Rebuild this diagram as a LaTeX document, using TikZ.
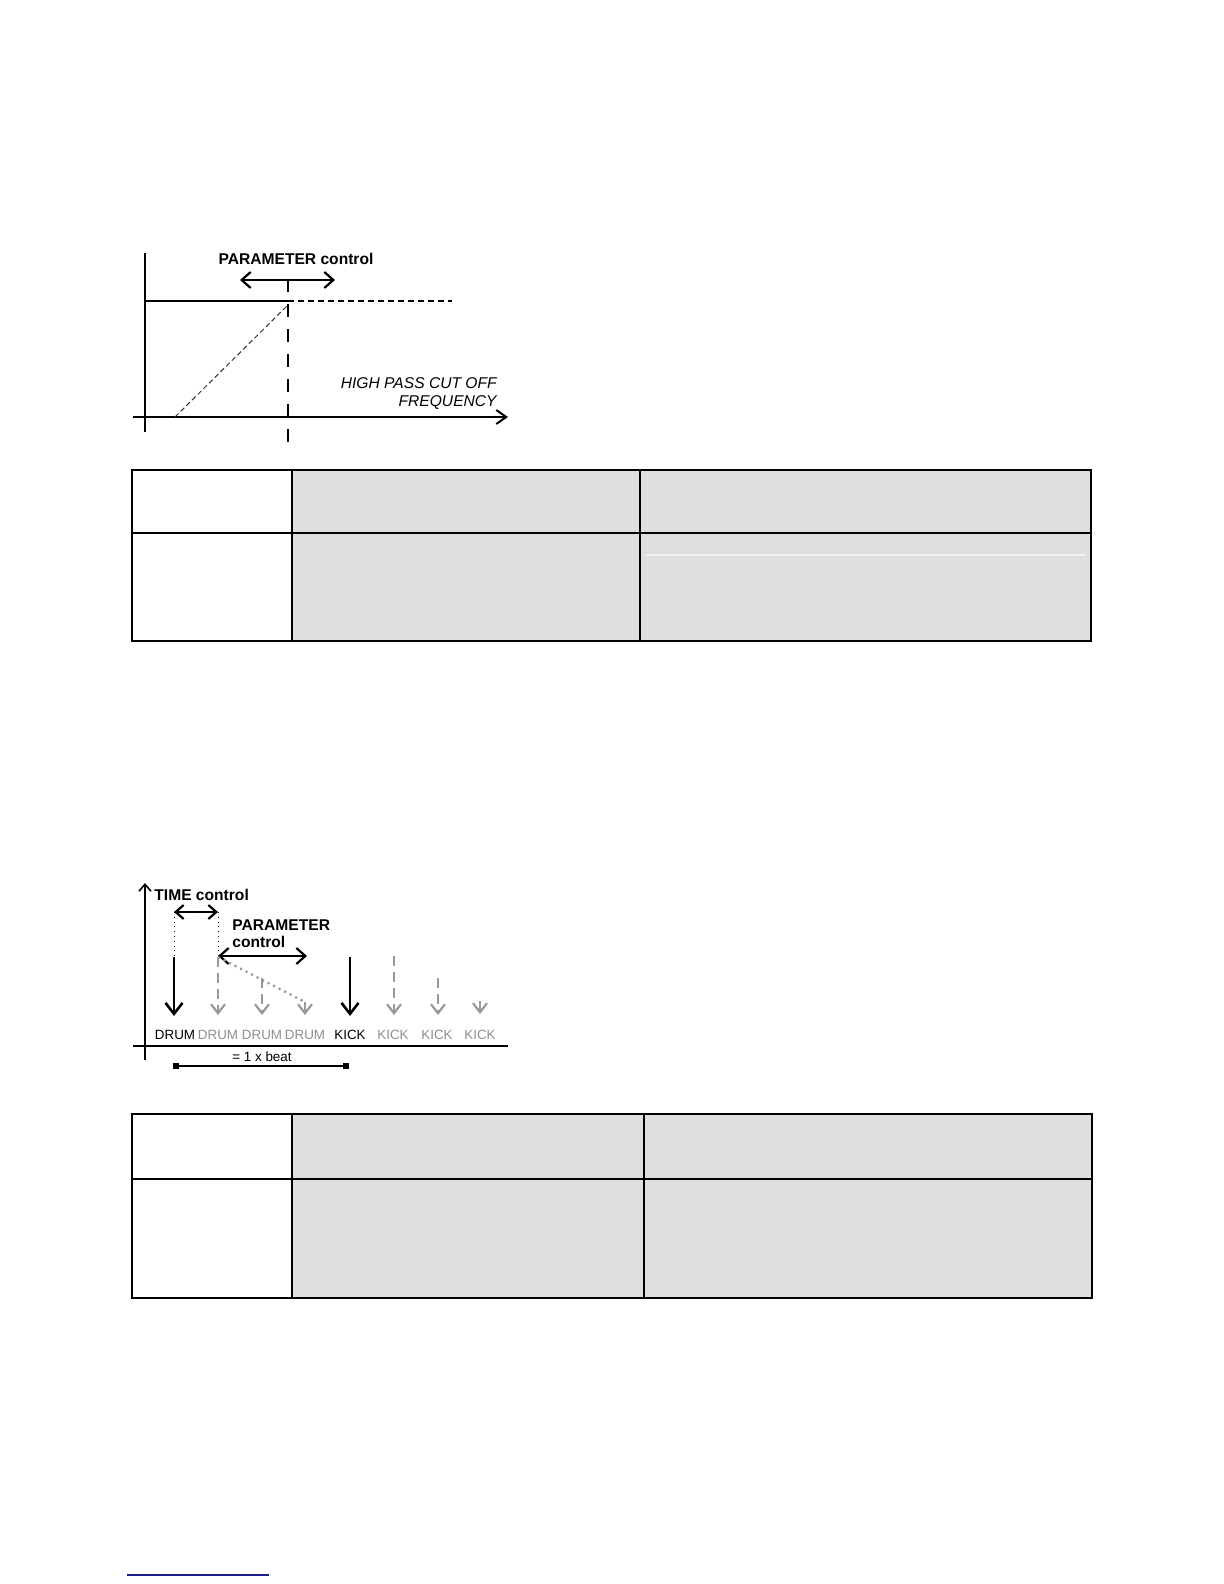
\documentclass[tikz,border=0pt]{standalone}
\usepackage{fontspec}
\setmainfont{Liberation Sans}
\usepackage{xcolor}
\usetikzlibrary{arrows.meta,positioning,calc}
\definecolor{cellGray}{HTML}{DFDFDF}
\definecolor{ghostGray}{HTML}{999999}
\definecolor{textGray}{HTML}{8E8E8E}
\definecolor{linkBlue}{HTML}{1C1C8E}
\tikzset{
  axis/.style={line width=0.6pt, draw=black},
  ctrl/.style={{Straight Barb[length=4.5pt,width=8pt]}-{Straight Barb[length=4.5pt,width=8pt]}, line width=1.1pt},
  ctrlsmall/.style={{Straight Barb[length=4pt,width=7pt]}-{Straight Barb[length=4pt,width=7pt]}, line width=1.1pt},
  cutline/.style={line width=1.3pt, dash pattern=on 6.5pt off 6pt},
  hit/.style={-{Straight Barb[length=5.5pt,width=8.5pt]}, line width=1.3pt},
  ghost/.style={-{Straight Barb[length=4.5pt,width=7pt]}, line width=1.1pt, draw=ghostGray, dash pattern=on 5pt off 3pt},
  boldlbl/.style={inner sep=0pt, font=\fontsize{7.8}{8.6}\selectfont\bfseries},
  itlbl/.style={inner sep=0pt, font=\fontsize{7.8}{8.6}\selectfont\itshape, align=right},
  beatlbl/.style={inner sep=0pt, font=\fontsize{6.7}{7.5}\selectfont},
  grid/.style={line width=0.75pt, draw=black}
}
\begin{document}
\begin{tikzpicture}[x=0.5pt,y=-0.5pt]
  \useasboundingbox (0,0) rectangle (1224,1584);
  % high pass cut off graph
  \coordinate (yTop) at (145,253);
  \coordinate (yBot) at (145,432);
  \coordinate (xLeft) at (133,417);
  \coordinate (xRight) at (508,417);
  \coordinate (pass) at (145,301);
  \coordinate (knee) at (288,301);
  \coordinate (passEnd) at (452,301);
  \coordinate (cutTop) at (288,279);
  \coordinate (cutBot) at (288,443);
  \coordinate (slopeLow) at (175,417);
  \coordinate (slopeHigh) at (288,305);
  \coordinate (hpL) at (240,280);
  \coordinate (hpR) at (335,280);
  \draw[axis] (yTop) -- (yBot);
  \draw[axis, -{Straight Barb[length=5pt,width=7pt,line width=1pt]}] (xLeft) -- (xRight);
  \draw[line width=1pt] (pass) -- (knee);
  \draw[line width=1pt, dash pattern=on 3pt off 2pt] (knee) -- (passEnd);
  \draw[cutline] (cutTop) -- (cutBot);
  \draw[line width=0.5pt, draw=black!80, dash pattern=on 2.5pt off 1.5pt] (slopeLow) -- (slopeHigh);
  \draw[ctrl] (hpL) -- (hpR);
  \node[boldlbl] (hpParam) at (296,259) {PARAMETER control};
  \node[itlbl, anchor=east] (hpFreq) at (497,393.5) {HIGH PASS CUT OFF\\FREQUENCY};
  % first table
  \fill[cellGray] (292,470) rectangle (1091,641);
  \draw[white!60!cellGray, line width=0.6pt] (646,555) -- (1085,555);
  \draw[grid] (132,470) rectangle (1091,641);
  \draw[grid] (132,533) -- (1091,533);
  \draw[grid] (292,470) -- (292,641);
  \draw[grid] (640,470) -- (640,641);
  % beat repeat graph
  \coordinate (tyBot) at (145,1060);
  \coordinate (tyTop) at (145,883);
  \coordinate (txLeft) at (133,1046);
  \coordinate (txRight) at (508,1046);
  \draw[axis, -{Straight Barb[length=3.5pt,width=6pt,line width=0.8pt]}] (tyBot) -- (tyTop);
  \draw[axis] (txLeft) -- (txRight);
  \node[boldlbl, anchor=west] (timeCtrl) at (154,895) {TIME control};
  \coordinate (tA) at (174,912);
  \coordinate (tB) at (218,912);
  \coordinate (d1top) at (174,957);
  \coordinate (d2top) at (218,957);
  \draw[ctrlsmall] (tA) -- (tB);
  \draw[line width=0.4pt, dotted] (tA) -- (d1top);
  \draw[line width=0.4pt, dotted] (tB) -- (d2top);
  \node[boldlbl, anchor=west, align=left] (beatParam) at (232,933.5) {PARAMETER\\control};
  \coordinate (bpR) at (307,956);
  \draw[ctrl] (218,956) -- (bpR);
  % hits
  \coordinate (d1tip) at (174,1016);
  \coordinate (d2tip) at (218,1015);
  \coordinate (d3top) at (262,978);
  \coordinate (d3tip) at (262,1015);
  \coordinate (d4top) at (305,1002);
  \coordinate (d4tip) at (305,1015);
  \coordinate (k1top) at (350,957);
  \coordinate (k1tip) at (350,1016);
  \coordinate (k2top) at (394,956);
  \coordinate (k2tip) at (394,1015);
  \coordinate (k3top) at (438,978);
  \coordinate (k3tip) at (438,1015);
  \coordinate (k4top) at (480,1001);
  \coordinate (k4tip) at (480,1014);
  \draw[line width=1.1pt, draw=ghostGray, dotted] (d2top) -- (d4top);
  \draw[hit] (d1top) -- (d1tip);
  \draw[ghost] (d2top) -- (d2tip);
  \draw[ghost] (d3top) -- (d3tip);
  \draw[ghost] (d4top) -- (d4tip);
  \draw[hit] (k1top) -- (k1tip);
  \draw[ghost] (k2top) -- (k2tip);
  \draw[ghost] (k3top) -- (k3tip);
  \draw[ghost] (k4top) -- (k4tip);
  \node[beatlbl] (drum1) at (175,1035) {DRUM};
  \node[beatlbl, text=textGray] (drum2) at (218,1035) {DRUM};
  \node[beatlbl, text=textGray] (drum3) at (262,1035) {DRUM};
  \node[beatlbl, text=textGray] (drum4) at (305,1035) {DRUM};
  \node[beatlbl] (kick1) at (350,1035) {KICK};
  \node[beatlbl, text=textGray] (kick2) at (393,1035) {KICK};
  \node[beatlbl, text=textGray] (kick3) at (437,1035) {KICK};
  \node[beatlbl, text=textGray] (kick4) at (480,1035) {KICK};
  \node[beatlbl] (oneBeat) at (262,1057) {= 1 x beat};
  \coordinate (beatL) at (173,1066);
  \coordinate (beatR) at (349,1066);
  \draw[line width=0.6pt, {Square[length=3pt,width=3pt]}-{Square[length=3pt,width=3pt]}] (beatL) -- (beatR);
  % second table
  \fill[cellGray] (292,1114) rectangle (1092,1298);
  \draw[grid] (132,1114) rectangle (1092,1298);
  \draw[grid] (132,1179) -- (1092,1179);
  \draw[grid] (292,1114) -- (292,1298);
  \draw[grid] (644,1114) -- (644,1298);
  % link underline
  \coordinate (linkL) at (127,1575);
  \coordinate (linkR) at (269,1575);
  \draw[linkBlue, line width=0.6pt] (linkL) -- (linkR);
\end{tikzpicture}
\end{document}
